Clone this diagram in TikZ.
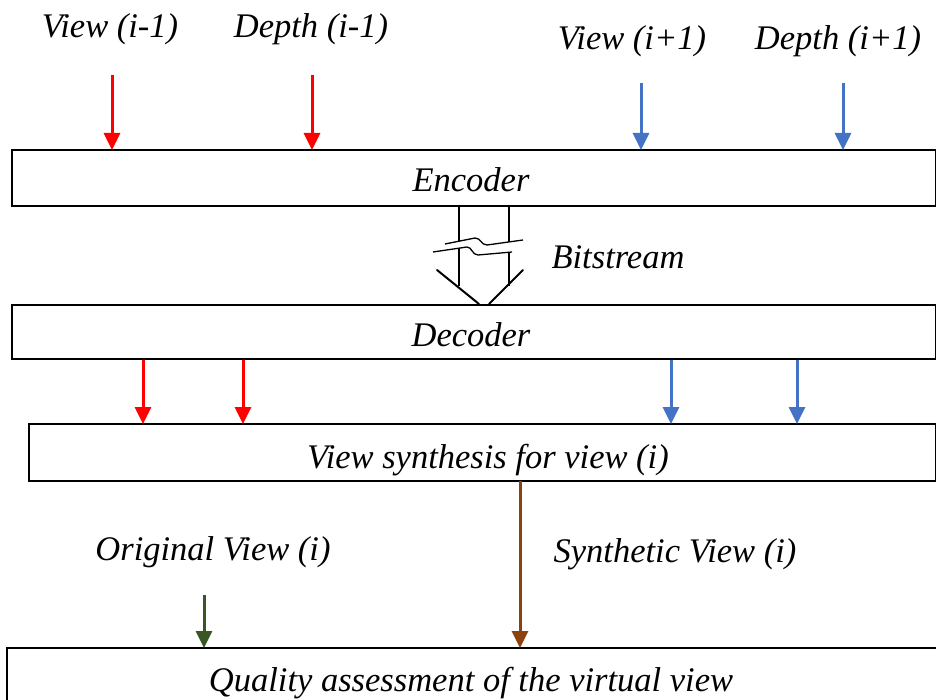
\documentclass[tikz,border=0pt]{standalone}
\usepackage{fontspec}
\setmainfont{Liberation Serif}
\newfontfamily\labelfont{Liberation Serif Italic}
\usetikzlibrary{arrows.meta}
\definecolor{arrred}{RGB}{255,0,0}
\definecolor{arrblue}{RGB}{68,114,196}
\definecolor{arrbrown}{RGB}{140,65,15}
\definecolor{arrgreen}{RGB}{56,87,35}
\begin{document}
\begin{tikzpicture}[x=1pt,y=-1pt,
  lbl/.style={font=\fontsize{34.5}{40}\labelfont, inner sep=0pt, anchor=base},
  blockbox/.style={draw=black, line width=1.6pt},
  feed/.style={line width=3pt, -{Triangle[length=17pt,width=16pt]}},
  pipe/.style={line width=2pt, black}]
\useasboundingbox (0,0) rectangle (936,700);

% processing blocks
\draw[blockbox] (12,150) rectangle (936,206);
\node[lbl] (enc) at (471,192) {Encoder};
\draw[blockbox] (12,305) rectangle (936,359);
\node[lbl] (dec) at (471,346) {Decoder};
\draw[blockbox] (29,424) rectangle (936,481);
\node[lbl] (syn) at (488,468) {View synthesis for view (i)};
\draw[blockbox] (7,648) rectangle (938,712);
\node[lbl] (qa) at (471,691) {Quality assessment of the virtual view};

% encoder inputs
\node[lbl] (v1) at (110,38) {View (i-1)};
\node[lbl] (d1) at (311,38) {Depth (i-1)};
\node[lbl] (v2) at (632,50) {View (i+1)};
\node[lbl] (d2) at (838,50) {Depth (i+1)};
\coordinate (v1s) at (112,75);  \coordinate (v1e) at (112,150);
\coordinate (d1s) at (312,75);  \coordinate (d1e) at (312,150);
\coordinate (v2s) at (641,83);  \coordinate (v2e) at (641,150);
\coordinate (d2s) at (843,83);  \coordinate (d2e) at (843,150);
\draw[feed, arrred] (v1s) -- (v1e);
\draw[feed, arrred] (d1s) -- (d1e);
\draw[feed, arrblue] (v2s) -- (v2e);
\draw[feed, arrblue] (d2s) -- (d2e);

% bitstream channel with break marks
\coordinate (bl1) at (459,206); \coordinate (bl2) at (459,286);
\coordinate (br1) at (509,206); \coordinate (br2) at (509,286);
\draw[pipe] (bl1) -- (bl2);
\draw[pipe] (br1) -- (br2);
\draw[pipe, line cap=round] (437,270) -- (479,304);
\draw[pipe, line cap=round] (523,270) -- (489,304);
\fill[white] (445,244) -- (475,238) .. controls (481,238) and (481,245) .. (487,245) -- (523,240)
  -- (512,252) -- (478,255) .. controls (472,255) and (472,247) .. (467,247) -- (433,252) -- cycle;
\draw[line width=1.3pt] (445,244) -- (475,238) .. controls (481,238) and (481,245) .. (487,245) -- (523,240);
\draw[line width=1.3pt] (433,252) -- (467,247) .. controls (472,247) and (472,255) .. (478,255) -- (512,252);
\node[lbl] (bits) at (618,269) {Bitstream};

% decoder outputs
\coordinate (a1s) at (143,360); \coordinate (a1e) at (143,424);
\coordinate (a2s) at (243,360); \coordinate (a2e) at (243,424);
\coordinate (a3s) at (671,360); \coordinate (a3e) at (671,424);
\coordinate (a4s) at (797,360); \coordinate (a4e) at (797,424);
\draw[feed, arrred] (a1s) -- (a1e);
\draw[feed, arrred] (a2s) -- (a2e);
\draw[feed, arrblue] (a3s) -- (a3e);
\draw[feed, arrblue] (a4s) -- (a4e);

% quality assessment inputs
\node[lbl] (orig) at (213,560) {Original View (i)};
\node[lbl] (synv) at (675,562) {Synthetic View (i)};
\coordinate (ss) at (520,481); \coordinate (se) at (520,648);
\coordinate (os) at (204,595); \coordinate (oe) at (204,648);
\draw[feed, arrbrown] (ss) -- (se);
\draw[feed, arrgreen] (os) -- (oe);
\end{tikzpicture}
\end{document}
